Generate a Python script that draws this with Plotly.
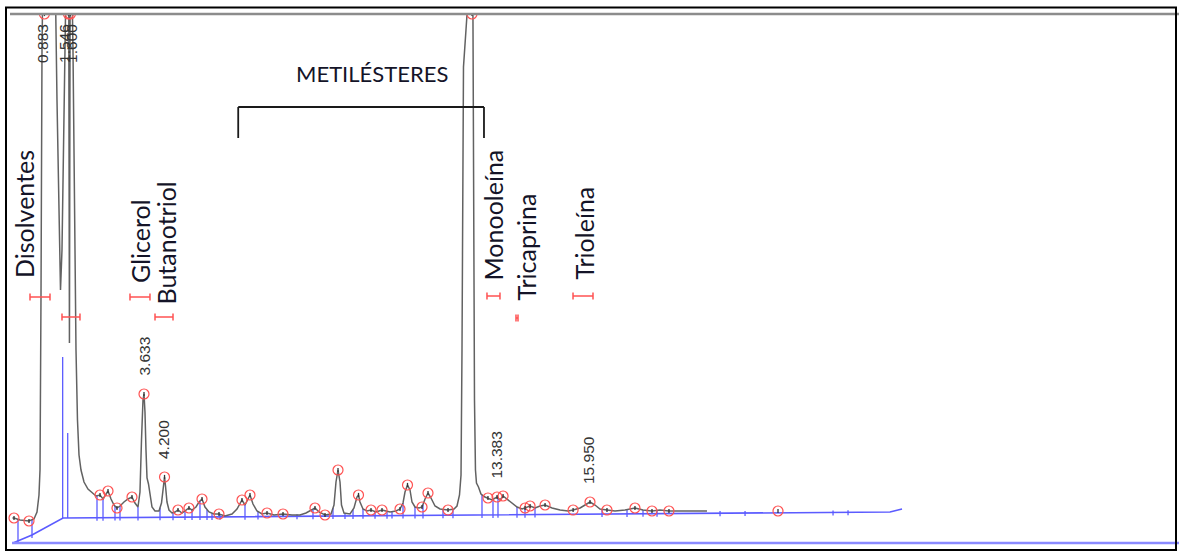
import numpy as np
import plotly.graph_objects as go

# ---- chromatogram trace: retention time (min) vs detector response (counts)
time_min = [
    0.000, 0.043, 0.209, 0.457, 0.595, 0.678, 0.733, 0.761, 0.788, 0.816,
    0.883, 0.927, 1.037, 1.175, 1.230, 1.272, 1.327, 1.368, 1.410, 1.465,
    1.546, 1.563, 1.574, 1.584, 1.600, 1.630, 1.672, 1.714, 1.755, 1.796,
    1.838, 1.893, 1.976, 2.086, 2.197, 2.307, 2.418, 2.501, 2.570, 2.639,
    2.722, 2.804, 2.887, 2.970, 3.080, 3.191, 3.301, 3.384, 3.467, 3.522,
    3.564, 3.605, 3.633, 3.660, 3.688, 3.716, 3.757, 3.799, 3.854, 3.937,
    4.047, 4.116, 4.158, 4.200, 4.227, 4.268, 4.323, 4.406, 4.489, 4.572,
    4.682, 4.792, 4.875, 4.958, 5.069, 5.152, 5.235, 5.317, 5.428, 5.566,
    5.704, 5.870, 6.063, 6.201, 6.339, 6.422, 6.505, 6.560, 6.643, 6.753,
    6.891, 7.030, 7.223, 7.472, 7.720, 7.941, 8.107, 8.245, 8.355, 8.466,
    8.632, 8.797, 8.880, 8.935, 8.991, 9.046, 9.087, 9.156, 9.322, 9.432,
    9.515, 9.557, 9.598, 9.681, 9.792, 9.902, 10.040, 10.206, 10.427, 10.593,
    10.703, 10.786, 10.841, 10.910, 10.979, 11.034, 11.117, 11.228, 11.311, 11.394,
    11.476, 11.559, 11.670, 11.808, 12.029, 12.194, 12.277, 12.346, 12.388, 12.415,
    12.437, 12.456, 12.525, 12.580, 12.635, 12.691, 12.718, 12.732, 12.760, 12.787,
    12.815, 12.870, 12.939, 13.049, 13.132, 13.243, 13.383, 13.466, 13.549, 13.660,
    13.798, 13.936, 14.074, 14.157, 14.240, 14.295, 14.433, 14.571, 14.709, 14.903,
    15.124, 15.345, 15.483, 15.676, 15.814, 15.950, 16.088, 16.226, 16.419, 16.640,
    16.916, 17.192, 17.413, 17.662, 17.883, 18.131, 18.573, 19.181,
]
signal = [
    28, 28, 26, 25, 27, 34, 51, 76, 246, 496,
    696, 646, 606, 586, 446, 366, 256, 296, 496, 646,
    726, 396, 203, 396, 696, 596, 496, 346, 196, 126,
    91, 76, 64, 57, 53, 50, 51, 47, 51, 55,
    47, 41, 38, 40, 44, 47, 49, 43, 39, 54,
    106, 146, 152, 134, 96, 68, 62, 51, 39, 35,
    35, 43, 58, 69, 60, 44, 36, 33, 34, 36,
    33, 36, 38, 36, 39, 44, 47, 39, 34, 32,
    32, 30, 32, 37, 46, 41, 48, 51, 42, 35,
    32, 33, 31, 32, 31, 31, 33, 36, 38, 34,
    31, 32, 41, 64, 76, 64, 41, 33, 32, 38,
    49, 51, 44, 37, 35, 36, 34, 36, 34, 35,
    37, 43, 54, 61, 56, 44, 39, 38, 39, 47,
    53, 48, 40, 37, 36, 37, 40, 51, 71, 196,
    396, 479, 516, 546, 606, 626, 526, 326, 146, 76,
    63, 59, 52, 49, 48, 46, 49, 46, 50, 47,
    43, 39, 37, 38, 39, 40, 38, 40, 41, 38,
    36, 35, 36, 38, 41, 44, 41, 37, 36, 35,
    36, 38, 36, 35, 36, 35, 35, 35,
]

# ---- integration baseline and peak cuts
baseline_time = [0.015, 0.540, 1.396, 24.235, 24.567]
baseline_signal = [3, 11, 28, 34, 37]
cut_times = [
    0.153, 0.540, 2.335, 2.501, 2.832, 2.970, 3.467, 4.075, 4.434, 4.765,
    4.959, 5.179, 5.373, 5.511, 5.732, 6.422, 6.781, 7.858, 8.300, 8.852,
    9.184, 9.405, 9.681, 10.013, 10.344, 10.482, 10.786, 11.117, 11.338, 11.890,
    12.166, 12.967, 13.271, 13.409, 13.934, 14.155, 14.431, 16.282, 16.972, 17.414,
    17.801, 19.541, 20.232, 22.662, 23.076,
]
solvent_cut_times = [1.387, 1.526]
solvent_cut_tops = [189, 113]

# ---- detected peak apexes
apex_times = [
    0.043, 0.457, 0.883, 1.546, 1.600, 2.418, 2.639, 2.887, 3.301, 3.633,
    4.200, 4.572, 4.875, 5.235, 5.704, 6.339, 6.560, 7.030, 7.472, 8.355,
    8.632, 8.991, 9.557, 9.902, 10.206, 10.703, 10.910, 11.311, 11.476, 12.029,
    12.691, 13.132, 13.383, 13.549, 14.157, 14.295, 14.709, 15.483, 15.950, 16.419,
    17.192, 17.662, 18.131, 21.142,
]

# ---- retention times printed above peaks
rt_labels = ["0.883", "1.546", "1.600", "3.633", "4.200", "13.383", "15.950"]
rt_label_shift = [-2, -4, 1, 0, -1, -1, -2]

# ---- compound identification windows (min) and their names
window_start = [0.485, 1.368, 3.246, 3.937, 13.105, 13.906, 15.481]
window_end = [1.037, 1.865, 3.798, 4.434, 13.464, 13.962, 16.033]
window_level = [249, 229, 249, 229, 250, 228, 250]
compound_names = ["Disolventes", "Glicerol", "Butanotriol", "Monooleína", "Tricaprina", "Trioleína"]
name_time = [0.320, 3.523, 4.213, 13.271, 14.155, 15.757]
name_bottom = [266, 261, 239, 264, 243, 264]

# ---- methyl-ester group bracket
group_label = "METILÉSTERES"
group_start, group_end = 6.235, 13.022
group_top, group_tick_end = 439, 408
group_label_pos = (9.930, 473)

# ---- canvas geometry
W, H = 1179, 552
PX_PER_MIN, X0_PX = 36.21, 12.45
TOP_PX = 14
x_range = [-X0_PX / PX_PER_MIN, (W - X0_PX) / PX_PER_MIN]
y_range = [546 - H, 546 - TOP_PX]
y_top = y_range[1]

t_arr = np.array(time_min, dtype=float)
s_arr = np.array(signal, dtype=float)
bt_arr = np.array(baseline_time, dtype=float)
bs_arr = np.array(baseline_signal, dtype=float)

BLUE = "#5b5bff"
RED = "#ff5252"
GRAY = "#626262"

fig = go.Figure()

# integration baseline
fig.add_trace(go.Scatter(x=baseline_time, y=baseline_signal, mode="lines",
                         line=dict(color=BLUE, width=1.6), hoverinfo="skip"))

# peak cuts: vertical drops from the trace to the baseline
cx, cy = [], []
for t in cut_times:
    top = float(np.interp(t, t_arr, s_arr))
    base = float(np.interp(t, bt_arr, bs_arr))
    cx += [t, t, None]
    cy += [max(top, base + 2), base - 3, None]
for t, top in zip(solvent_cut_times, solvent_cut_tops):
    base = float(np.interp(t, bt_arr, bs_arr))
    cx += [t, t, None]
    cy += [top, base, None]
fig.add_trace(go.Scatter(x=cx, y=cy, mode="lines",
                         line=dict(color=BLUE, width=1.3), hoverinfo="skip"))

# detector signal
fig.add_trace(go.Scatter(x=time_min, y=signal, mode="lines",
                         line=dict(color=GRAY, width=1.5), hoverinfo="skip"))

# apex markers
apex_vals = np.minimum(np.interp(apex_times, t_arr, s_arr), y_top)
fig.add_trace(go.Scatter(x=apex_times, y=apex_vals, mode="markers",
                         marker=dict(symbol="circle-open", size=10, color=RED,
                                     line=dict(color=RED, width=1.2)),
                         hoverinfo="skip"))
fig.add_trace(go.Scatter(x=apex_times, y=apex_vals, mode="markers",
                         marker=dict(symbol="line-ns", size=3, color="#333333",
                                     line=dict(color="#333333", width=1.3)),
                         hoverinfo="skip"))

shapes = []
# identification windows
for a, b, v in zip(window_start, window_end, window_level):
    for seg in [(a, v, b, v), (a, v - 3.5, a, v + 3.5), (b, v - 3.5, b, v + 3.5)]:
        shapes.append(dict(type="line", xref="x", yref="y",
                           x0=seg[0], y0=seg[1], x1=seg[2], y1=seg[3],
                           line=dict(color=RED, width=1.5)))

# bracket over the methyl esters
for seg in [(group_start, group_top, group_end, group_top),
            (group_start, group_top, group_start, group_tick_end),
            (group_end, group_top, group_end, group_tick_end)]:
    shapes.append(dict(type="line", xref="x", yref="y",
                       x0=seg[0], y0=seg[1], x1=seg[2], y1=seg[3],
                       line=dict(color="#1a1a1a", width=1.8)))

# time axis line
shapes.append(dict(type="line", xref="x", yref="y", x0=-0.012, x1=x_range[1],
                   y0=3, y1=3, line=dict(color="#8a8aff", width=2.5)))


def px(xp):
    return xp / W


def py(yp):
    return 1 - yp / H


# top of the signal window
shapes.append(dict(type="line", xref="paper", yref="paper",
                   x0=px(10), x1=1, y0=py(14), y1=py(14),
                   line=dict(color="#8c8c8c", width=2.5)))
# frame
shapes.append(dict(type="rect", xref="paper", yref="paper",
                   x0=px(6), x1=px(1176), y0=py(550), y1=py(7.5),
                   line=dict(color="#000000", width=2)))

annotations = []
# retention time labels
for lab, dx in zip(rt_labels, rt_label_shift):
    t = float(lab)
    val = float(np.interp(t, t_arr, s_arr))
    if val >= y_top:
        annotations.append(dict(x=t, y=y_top, xref="x", yref="y", text=lab,
                                textangle=-90, showarrow=False, xanchor="center",
                                yanchor="top", yshift=-8, xshift=dx,
                                font=dict(family="Liberation Sans", size=15.5, color="#333333")))
    else:
        annotations.append(dict(x=t, y=val, xref="x", yref="y", text=lab,
                                textangle=-90, showarrow=False, xanchor="center",
                                yanchor="bottom", yshift=16, xshift=dx,
                                font=dict(family="Liberation Sans", size=15.5, color="#333333")))

# compound names
for name, t, v in zip(compound_names, name_time, name_bottom):
    annotations.append(dict(x=t, y=v, xref="x", yref="y", text=name,
                            textangle=-90, showarrow=False, xanchor="center",
                            yanchor="bottom",
                            font=dict(family="Lato", size=25, color="#141428")))

annotations.append(dict(x=group_label_pos[0], y=group_label_pos[1], xref="x", yref="y",
                        text=group_label, showarrow=False, xanchor="center",
                        yanchor="middle",
                        font=dict(family="Lato", size=22, color="#141428")))

fig.update_layout(
    width=W, height=H,
    margin=dict(l=0, r=0, t=0, b=0),
    paper_bgcolor="white", plot_bgcolor="white",
    showlegend=False,
    shapes=shapes, annotations=annotations,
    xaxis=dict(range=x_range, visible=False, fixedrange=True),
    yaxis=dict(range=y_range, visible=False, fixedrange=True,
               domain=[0, (H - TOP_PX) / H]),
)

fig.write_html("out.html")
